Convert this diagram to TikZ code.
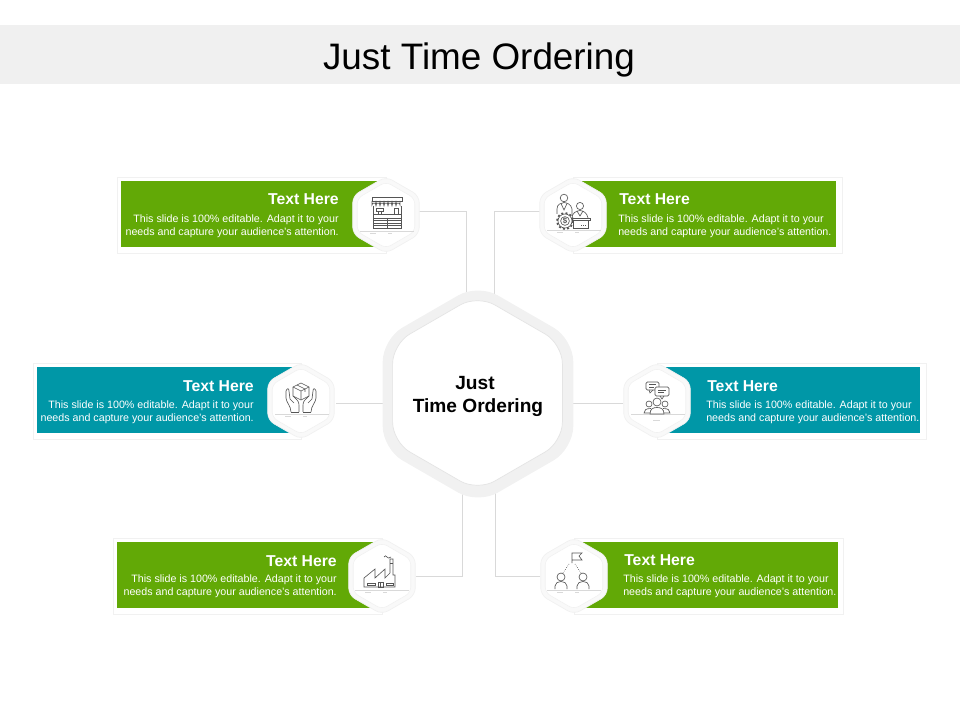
\documentclass[tikz,border=0pt]{standalone}
\usepackage{fontspec}
\setmainfont{Liberation Sans}
\usetikzlibrary{shapes.geometric, backgrounds}
\definecolor{bandgray}{HTML}{F0F0F0}
\definecolor{ringgray}{HTML}{F1F1F1}
\definecolor{linegray}{HTML}{D9D9D9}
\definecolor{icongray}{HTML}{555555}
\definecolor{slidegreen}{HTML}{62A906}
\definecolor{slideteal}{HTML}{0097A7}
\newcommand{\groundline}[2]{%
  \draw[groundstroke] (#1,#2) -- (#1+54,#2);
  \draw[groundstroke] (#1+10,#2+2) -- (#1+16,#2+2) (#1+28,#2+2) -- (#1+32,#2+2);
}
\begin{document}
\begin{tikzpicture}[x=0.025cm, y=-0.025cm,
        hexouter/.style={regular polygon, regular polygon sides=6, shape border rotate=30, minimum size=1.92cm, inner sep=0pt, rounded corners=5pt, fill=ringgray!45, draw=ringgray, line width=0.5pt},
        hexinner/.style={regular polygon, regular polygon sides=6, shape border rotate=30, minimum size=1.66cm, inner sep=0pt, rounded corners=4pt, fill=white, draw=ringgray, line width=0.4pt},
        frameline/.style={draw=ringgray, line width=0.7pt, fill=white},
        link/.style={draw=linegray, line width=0.5pt},
        headtext/.style={font=\fontsize{11.2}{13}\selectfont\bfseries, text=white, inner sep=0pt},
        bodyleft/.style={font=\fontsize{7.6}{9.2}\selectfont, text=white, inner sep=0pt, align=left},
        bodyright/.style={font=\fontsize{7.6}{9.2}\selectfont, text=white, inner sep=0pt, align=right},
        iconstroke/.style={draw=icongray, line width=0.45pt},
        groundstroke/.style={draw=linegray, line width=0.35pt}
    ]
      \useasboundingbox (0,0) rectangle (960,720);

      % Title band
      \fill[bandgray] (0,25) rectangle (960,84);
      \node[font=\fontsize{26.2}{30}\selectfont, inner sep=0pt] (pagetitle) at (479,59.5) {Just Time Ordering};

      % Frames and colour bars
      \draw[frameline] (117,177) rectangle (386,253);
      \fill[slidegreen] (121,181.5) rectangle (386,247);
      \draw[frameline] (573,177) rectangle (842,253);
      \fill[slidegreen] (573,181.5) rectangle (836,247);
      \draw[frameline] (33,363) rectangle (301,439);
      \fill[slideteal] (37,367.5) rectangle (301,433);
      \draw[frameline] (657,363) rectangle (926,439);
      \fill[slideteal] (657,367.5) rectangle (920,433);
      \draw[frameline] (113,538) rectangle (382,614);
      \fill[slidegreen] (117,542.5) rectangle (382,608);
      \draw[frameline] (574,538) rectangle (843,614);
      \fill[slidegreen] (574,542.5) rectangle (838,608);

      % Centre hexagon
      \node[regular polygon, regular polygon sides=6, shape border rotate=30, minimum size=5.5cm, inner sep=0pt, rounded corners=16pt, fill=ringgray] (hubring) at (478,394) {};
      \node[regular polygon, regular polygon sides=6, shape border rotate=30, minimum size=4.9cm, inner sep=0pt, rounded corners=14pt, fill=white, draw=linegray!70, line width=0.5pt] (hub) at (477.5,393) {};
      \node[font=\fontsize{13.6}{16.4}\selectfont\bfseries, align=center, inner sep=0pt] (hubtext) at (478,396.5) {Just\hspace*{0.15cm}\\Time Ordering};

      % Small hexagons
      \node[hexouter] (shophex) at (386,215) {};
      \node[hexinner] at (shophex) {};
      \node[hexouter] (bosshex) at (573,215) {};
      \node[hexinner] at (bosshex) {};
      \node[hexouter] (boxhex) at (301,401) {};
      \node[hexinner] at (boxhex) {};
      \node[hexouter] (chathex) at (657,401) {};
      \node[hexinner] at (chathex) {};
      \node[hexouter] (plantthex) at (382,576) {};
      \node[hexinner] at (plantthex) {};
      \node[hexouter] (flaghex) at (574,576) {};
      \node[hexinner] at (flaghex) {};

      % Connectors
      \coordinate (shopjoint) at (466,211);
      \coordinate (bossjoint) at (494,211);
      \coordinate (plantjoint) at (462,576);
      \coordinate (flagjoint) at (495,576);
      \coordinate (boxend) at (336,403);
      \coordinate (chatend) at (623,403);
      \begin{scope}[on background layer]
        \draw[link] (shophex.center |- shopjoint) -- (shopjoint) -- (shopjoint |- hub.center);
        \draw[link] (bosshex.center |- bossjoint) -- (bossjoint) -- (bossjoint |- hub.center);
        \draw[link] (plantthex) -- (plantjoint) -- (plantjoint |- hub.center);
        \draw[link] (flaghex) -- (flagjoint) -- (flagjoint |- hub.center);
        \draw[link] (boxend) -- (hub.center |- boxend);
        \draw[link] (chatend) -- (hub.center |- chatend);
      \end{scope}

      % Texts
      \node[headtext, anchor=east] (shophead) at (339,199.5) {Text Here};
      \node[bodyright, anchor=east] (shopbody) at (339,226) {This slide is 100\% editable.  Adapt it to your\\needs and capture your audience's attention.};
      \node[headtext, anchor=west] (bosshead) at (619,199.5) {Text Here};
      \node[bodyleft, anchor=west] (bossbody) at (618,226) {This slide is 100\% editable.  Adapt it to your\\needs and capture your audience's attention.};
      \node[headtext, anchor=east] (boxhead) at (254,386.5) {Text Here};
      \node[bodyright, anchor=east] (boxbody) at (254,412) {This slide is 100\% editable.  Adapt it to your\\needs and capture your audience's attention.};
      \node[headtext, anchor=west] (chathead) at (707,386.5) {Text Here};
      \node[bodyleft, anchor=west] (chatbody) at (706,412) {This slide is 100\% editable.  Adapt it to your\\needs and capture your audience's attention.};
      \node[headtext, anchor=east] (planthead) at (337,561.5) {Text Here};
      \node[bodyright, anchor=east] (plantbody) at (337,586) {This slide is 100\% editable.  Adapt it to your\\needs and capture your audience's attention.};
      \node[headtext, anchor=west] (flaghead) at (624,560.5) {Text Here};
      \node[bodyleft, anchor=west] (flagbody) at (623,586) {This slide is 100\% editable.  Adapt it to your\\needs and capture your audience's attention.};

      % Shop icon
      \begin{scope}[shift={(386,215)}]
        \groundline{-26}{16}
        \draw[iconstroke] (-13,-9) -- (-13,13) -- (15,13) -- (15,-9);
        \draw[iconstroke] (-14,-18) rectangle (16,-14);
        \foreach \sx in {-14,-10,...,12}
          \draw[iconstroke] (\sx,-14) -- (\sx,-10) arc (180:360:2) -- (\sx+4,-14);
        \draw[iconstroke] (-13,3) rectangle (15,-1);
        \draw[iconstroke] (-13,5) -- (15,5) (-13,8) -- (15,8) (-13,10.5) -- (15,10.5) (1,3) -- (1,13);
        \draw[iconstroke] (-10,-7) rectangle (-3,-4) (-8,-4) -- (-8,-1) (-5,-4) -- (-5,-1);
        \draw[iconstroke] (8,-7) rectangle (12,-1);
      \end{scope}

      % Boss and gear icon
      \begin{scope}[shift={(573,215)}]
        \groundline{-26}{15}
        \draw[iconstroke] (-9,-17) circle (3.8);
        \draw[iconstroke] (-16,-1) -- (-16,-6) .. controls (-16,-11) and (-12,-12) .. (-9,-12.5) .. controls (-6,-12) and (-2,-11) .. (-1,-6) -- (-1,1);
        \draw[iconstroke] (-12,-11.5) -- (-9,-5) -- (-6,-11.5);
        \draw[iconstroke, line width=1.2pt, dash pattern=on 1.4pt off 1.6pt] (-8,6) circle (8);
        \draw[iconstroke, fill=white] (-8,6) circle (7);
        \draw[iconstroke] (-8,6) circle (4.4);
        \node[font=\fontsize{5.5}{6}\selectfont\bfseries, text=icongray, inner sep=0pt] (gearsign) at (-8,6) {\$};
        \draw[iconstroke] (7,-9) circle (3.6);
        \draw[iconstroke] (-1,3) .. controls (-1,-2) and (3,-4) .. (7,-4.5) .. controls (11,-4) and (14,-2) .. (15,3);
        \draw[iconstroke] (4,-4) -- (7,1) -- (10,-4);
        \draw[iconstroke] (-1,3) rectangle (17,5.5);
        \draw[iconstroke] (0,5.5) -- (0,13) -- (15,13) -- (15,5.5);
        \draw[iconstroke, densely dotted] (8,10) -- (13,10);
      \end{scope}

      % Hands and box icon
      \begin{scope}[shift={(301,401)}]
        \groundline{-26}{13}
        \draw[iconstroke] (0,-18) -- (8,-14) -- (8,-5) -- (0,-1) -- (-8,-5) -- (-8,-14) -- cycle;
        \draw[iconstroke] (-8,-14) -- (0,-10) -- (8,-14) (0,-10) -- (0,-1) (-4,-16) -- (4,-12) -- (4,-9);
        \foreach \sd in {-1,1} {
          \draw[iconstroke] (\sd*2,11) -- (\sd*2,4) .. controls (\sd*2,0) and (\sd*4,-1) .. (\sd*8,-5) (\sd*7,2) -- (\sd*11,-2) -- (\sd*12,-10) .. controls (\sd*12,-13) and (\sd*14,-13) .. (\sd*15,-10) -- (\sd*15,-3) .. controls (\sd*15,1) and (\sd*10,5) .. (\sd*10,11);
          \draw[iconstroke] (\sd*2,11) -- (\sd*10,11);
        }
      \end{scope}

      % Chat and people icon
      \begin{scope}[shift={(657,401)}]
        \draw[groundstroke] (-26,13) -- (28,13) (-4,19) -- (3,19);
        \draw[iconstroke, rounded corners=1pt] (-11,-19) rectangle (2,-11);
        \draw[iconstroke] (-8,-11) -- (-7,-8) -- (-4,-11);
        \draw[iconstroke] (-8,-16.5) -- (-1,-16.5) (-8,-14) -- (-3,-14);
        \draw[iconstroke, fill=white, rounded corners=1pt] (-2,-14) rectangle (12,-5);
        \draw[iconstroke] (3,-5) -- (5,-2) -- (7,-5);
        \draw[iconstroke] (1,-11) -- (9,-11) (1,-8.5) -- (7,-8.5);
        \draw[iconstroke] (0,1) circle (4);
        \draw[iconstroke] (-8,3) circle (3);
        \draw[iconstroke] (8,3) circle (3);
        \draw[iconstroke] (-7,13) .. controls (-7,8) and (-4,6.5) .. (0,6.5) .. controls (4,6.5) and (7,8) .. (7,13) -- cycle;
        \draw[iconstroke] (-7,12) -- (-13,12) .. controls (-13,9) and (-11,7.5) .. (-6,7.5);
        \draw[iconstroke] (7,12) -- (13,12) .. controls (13,9) and (11,7.5) .. (6,7.5);
      \end{scope}

      % Factory icon
      \begin{scope}[shift={(382,576)}]
        \groundline{-27}{14}
        \draw[iconstroke] (-18,11) -- (-18,2) -- (-7,-7) -- (-7,2) -- (3,-7) -- (3,2) -- (8,-3) -- (8,-17) -- (11,-17) -- (11,-1) -- (13,-1) -- (13,11) -- cycle;
        \draw[iconstroke] (8,-13) -- (11,-13);
        \draw[iconstroke] (-15,7) rectangle (-7,9);
        \draw[iconstroke] (4,7) rectangle (11,9);
        \draw[iconstroke] (-4,6) rectangle (1,11) (-1.5,6) -- (-1.5,11);
        \draw[iconstroke] (2,-19) .. controls (3,-20.5) and (4,-20.5) .. (5,-19) .. controls (6,-17.5) and (7,-17.5) .. (9,-19);
      \end{scope}

      % Flag and people icon
      \begin{scope}[shift={(574,576)}]
        \groundline{-27}{14}
        \draw[iconstroke] (-2,-13) -- (-2,-23) -- (8,-23) -- (5,-20) -- (8,-16) -- (-2,-16);
        \draw[iconstroke, densely dotted] (-5,-12) -- (-11,-3) (1,-12) -- (7,-3);
        \foreach \px in {-13,9} {
          \draw[iconstroke] (\px,1) circle (4);
          \draw[iconstroke] (\px-6,13) -- (\px-6,10) .. controls (\px-6,7) and (\px-3,5.5) .. (\px,5.5) .. controls (\px+3,5.5) and (\px+6,7) .. (\px+6,10) -- (\px+6,13);
        }
      \end{scope}
    \end{tikzpicture}
\end{document}
